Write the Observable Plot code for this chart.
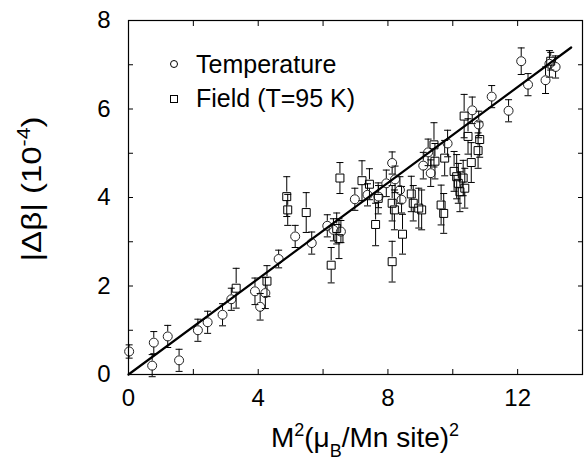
<!DOCTYPE html>
<html><head><meta charset="utf-8">
<script src="https://cdn.jsdelivr.net/npm/d3@7"></script>
<script src="https://cdn.jsdelivr.net/npm/@observablehq/plot@0.6"></script>
<style>body{margin:0;background:#fff} svg{display:block}</style>
</head><body><div id="chart"></div>
<script>
// Temperature series
const tempX = [0.02,0.73,0.78,1.21,1.56,2.14,2.44,2.9,3.17,3.9,4.06,4.22,4.63,5.14,5.65,6.13,6.32,6.55,6.98,7.37,7.71,7.95,8.13,8.22,8.37,8.42,9.09,9.24,9.32,9.84,10.6,10.8,11.2,11.72,12.11,12.32,12.86,12.98,13.17];
const tempY = [0.52,0.2,0.72,0.86,0.32,1.0,1.18,1.35,1.7,1.88,1.53,1.84,2.61,3.12,2.97,3.36,3.27,3.23,3.96,4.06,4.02,4.32,4.78,4.41,4.17,3.95,4.72,5.02,4.55,5.22,5.97,5.65,6.28,5.96,7.08,6.55,6.65,7.02,6.95];
const tempErr = [0.15,0.25,0.25,0.25,0.25,0.25,0.25,0.25,0.25,0.3,0.3,0.35,0.2,0.25,0.25,0.25,0.25,0.25,0.25,0.25,0.25,0.3,0.25,0.3,0.3,0.3,0.3,0.3,0.3,0.3,0.3,0.3,0.25,0.25,0.3,0.25,0.3,0.3,0.25];
// Field series (T=95 K)
const fieldX = [3.32,4.27,4.88,4.91,5.48,6.25,6.42,6.49,6.52,7.2,7.43,7.62,7.7,8.13,8.2,8.13,8.45,8.72,8.78,8.95,9.04,9.42,9.45,9.64,9.72,9.75,10.04,10.12,10.17,10.22,10.32,10.37,10.35,10.47,10.57,10.78,10.83,13.02];
const fieldY = [1.95,2.11,4.02,3.72,3.66,2.47,3.3,3.07,4.44,4.38,4.3,3.39,3.98,3.87,3.72,2.55,3.17,4.08,3.87,3.76,3.72,5.19,4.82,3.83,3.64,4.89,4.59,4.47,4.32,4.13,4.44,4.21,5.84,5.38,4.79,5.06,5.31,7.08];
const fieldErr = [0.45,0.35,0.45,0.35,0.45,0.4,0.35,0.45,0.35,0.45,0.35,0.48,0.35,0.4,0.45,0.46,0.45,0.4,0.4,0.45,0.45,0.5,0.4,0.45,0.45,0.4,0.45,0.5,0.45,0.45,0.4,0.45,0.49,0.4,0.45,0.4,0.4,0.2];
// Linear fit
const fitX = [0, 13.65];
const fitY = [0, 7.39];
// Ticks
const xTicks = [0,2,4,6,8,10,12,14];
const xLabels = [0,4,8,12];
const yTicks = [0,1,2,3,4,5,6,7,8];
const yLabels = [0,2,4,6,8];
const legendLabels = ["Temperature", "Field (T=95 K)"];

const temp = tempX.map((x,i)=>({x, y: tempY[i], e: tempErr[i]}));
const field = fieldX.map((x,i)=>({x, y: fieldY[i], e: fieldErr[i]}));
const fit = fitX.map((x,i)=>({x, y: fitY[i]}));

const R = 4.5;
const capSym = {draw(ctx){ ctx.moveTo(-3.5,0); ctx.lineTo(3.5,0); }};
const FONT = "'Liberation Sans', Arial, Helvetica, sans-serif";

function errMarks(data) {
  return [
    Plot.ruleX(data, {x:"x", y1: d=>d.y+d.e, y2: "y", insetBottom: R, stroke:"black", strokeWidth:1}),
    Plot.ruleX(data, {x:"x", y1: "y", y2: d=>d.y-d.e, insetTop: R, stroke:"black", strokeWidth:1}),
    Plot.dot(data, {x:"x", y: d=>d.y+d.e, symbol: capSym, stroke:"black", strokeWidth:1}),
    Plot.dot(data, {x:"x", y: d=>d.y-d.e, symbol: capSym, stroke:"black", strokeWidth:1})
  ];
}

const chart = Plot.plot({
  width: 584, height: 462,
  marginLeft: 128, marginRight: 2, marginTop: 20, marginBottom: 88,
  style: {fontFamily: FONT, fontSize: "24px", color: "black", background: "white", overflow: "visible"},
  x: {domain: [0,14]},
  y: {domain: [0,8]},
  marks: [
    ...errMarks(temp),
    ...errMarks(field),
    Plot.dot(temp, {x:"x", y:"y", r: R, symbol:"circle", stroke:"#222", strokeWidth:1, fill:"none"}),
    Plot.dot(field, {x:"x", y:"y", r: R, symbol:"square", stroke:"black", strokeWidth:1, fill:"none"}),
    Plot.line(fit, {x:"x", y:"y", stroke:"black", strokeWidth:2.2}),
    Plot.axisX(xTicks, {anchor:"bottom", tickSize:-5, tickPadding:19, tickFormat: d => xLabels.includes(d) ? String(d) : "", label:null, fontSize:24}),
    Plot.axisX(xTicks, {anchor:"top", tickSize:-5, tickFormat: () => "", label:null}),
    Plot.axisY(yTicks, {anchor:"left", tickSize:-5, tickPadding:23, tickFormat: d => yLabels.includes(d) ? String(d) : "", label:null, fontSize:24}),
    Plot.axisY(yTicks, {anchor:"right", tickSize:-5, tickFormat: () => "", label:null}),
    Plot.frame({stroke:"black", strokeWidth:1.2})
  ]
});

const svg = d3.select(chart);
// X axis title
const xt = svg.append("text").attr("x", 365).attr("y", 447).attr("text-anchor","middle")
  .attr("font-family", FONT).attr("font-size", 28).attr("fill","black");
xt.append("tspan").text("M");
xt.append("tspan").attr("font-size",18).attr("dy",-11).text("2");
xt.append("tspan").attr("dy",11).text("(μ");
xt.append("tspan").attr("font-size",18).attr("dy",10).text("B");
xt.append("tspan").attr("dy",-10).text("/Mn site)");
xt.append("tspan").attr("font-size",18).attr("dy",-11).text("2");

// Y axis title
const yt = svg.append("text").attr("transform","translate(41,189) rotate(-90) scale(1.18,1)")
  .attr("text-anchor","middle").attr("font-family", FONT).attr("font-size", 28).attr("fill","black");
yt.append("tspan").text("|Δβ| (10");
yt.append("tspan").attr("font-size",18).attr("dy",-11).text("-4");
yt.append("tspan").attr("dy",11).text(")");

// Legend
const lg = svg.append("g").attr("font-family", FONT).attr("font-size", 25).attr("fill","black").attr("text-anchor","start");
lg.append("circle").attr("cx",174).attr("cy",64).attr("r",3.5).attr("fill","none").attr("stroke","black");
lg.append("text").attr("x",196).attr("y",73).attr("text-anchor","start").text(legendLabels[0]);
lg.append("rect").attr("x",170.5).attr("y",95.5).attr("width",7).attr("height",7).attr("fill","none").attr("stroke","black");
lg.append("text").attr("x",196).attr("y",107).attr("text-anchor","start").text(legendLabels[1]);

document.getElementById("chart").appendChild(chart);
</script>
</body></html>
